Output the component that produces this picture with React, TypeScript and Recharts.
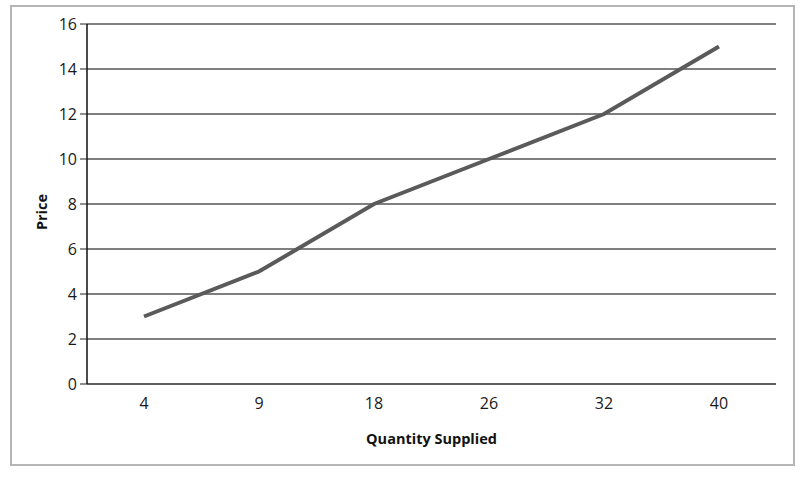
import React from "react";
import { LineChart, Line, XAxis, YAxis, CartesianGrid } from "recharts";

const quantities = ["4", "9", "18", "26", "32", "40"];
const prices = [3, 5, 8, 10, 12, 15];
const priceTicks = [0, 2, 4, 6, 8, 10, 12, 14, 16];

const data = quantities.map((q, i) => ({ quantity: q, price: prices[i] }));

const fontFamily = "'Open Sans', sans-serif";
const tickFont = { fontFamily, fontSize: 16, fill: "#1a1a1a" };
const labelFont = { fontFamily, fontSize: 14.5, fontWeight: "bold" as const, fill: "#111" };

function PriceLabel(props: any) {
    const vb = props.viewBox || {};
    const cx = 41;
    const cy = (vb.y ?? 24) + (vb.height ?? 360) / 2 + 8;
    return (
        <text
            x={cx}
            y={cy}
            transform={`rotate(-90, ${cx}, ${cy})`}
            textAnchor="middle"
            dominantBaseline="central"
            style={labelFont}
        >
            Price
        </text>
    );
}

export default function App() {
    return (
        <div style={{ position: "absolute", left: 0, top: 0, width: 800, height: 477, background: "#fff" }}>
            <div
                style={{
                    position: "absolute",
                    left: 10,
                    top: 5,
                    width: 781,
                    height: 457,
                    border: "2px solid #b5b5b5",
                }}
            />
            <div style={{ position: "absolute", left: 0, top: 0 }}>
                <LineChart width={800} height={477} data={data} margin={{ top: 24, right: 24, bottom: 0, left: 0 }}>
                    <CartesianGrid horizontal={true} vertical={false} stroke="#555" strokeWidth={1.5} />
                    <XAxis
                        dataKey="quantity"
                        height={93}
                        padding={{ left: 57, right: 57 }}
                        tickLine={false}
                        axisLine={{ stroke: "#555", strokeWidth: 1.5 }}
                        tickMargin={8}
                        tick={tickFont}
                        label={{
                            value: "Quantity Supplied",
                            position: "insideBottom",
                            offset: 33,
                            style: labelFont,
                        }}
                    />
                    <YAxis
                        width={87}
                        domain={[0, 16]}
                        ticks={priceTicks}
                        interval={0}
                        tickSize={7}
                        tickMargin={3}
                        tickLine={{ stroke: "#222" }}
                        axisLine={{ stroke: "#111", strokeWidth: 1.5 }}
                        tick={tickFont}
                        label={<PriceLabel />}
                    />
                    <Line
                        type="linear"
                        dataKey="price"
                        stroke="#5a5a5a"
                        strokeWidth={4}
                        dot={false}
                        isAnimationActive={false}
                    />
                </LineChart>
            </div>
        </div>
    );
}
